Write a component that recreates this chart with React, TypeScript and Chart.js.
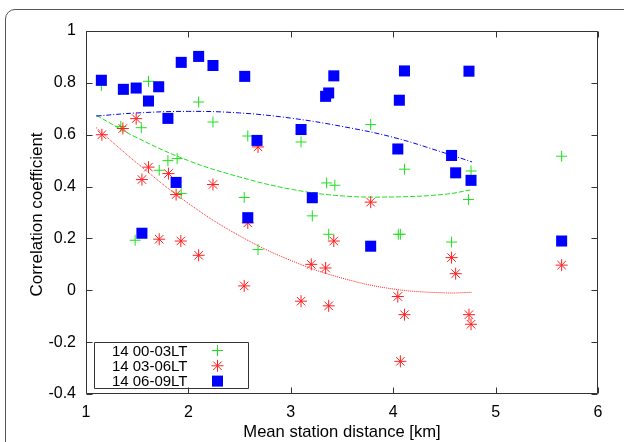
import React, { useEffect, useRef } from 'react';
import { Chart, registerables } from 'chart.js';

Chart.register(...registerables);

// 14 00-03LT (green crosses)
const greenX = [1.15, 1.34, 1.54, 1.61, 1.715, 1.80, 1.89, 1.93, 1.48, 2.10, 2.24, 2.58, 2.545, 2.68, 3.10, 3.21, 3.35, 3.43, 3.37, 3.78, 4.05, 4.07, 4.11, 4.57, 4.735, 4.76, 5.645];
const greenY = [0.79, 0.632, 0.627, 0.806, 0.463, 0.50, 0.508, 0.373, 0.193, 0.726, 0.649, 0.595, 0.358, 0.157, 0.572, 0.287, 0.414, 0.405, 0.216, 0.639, 0.216, 0.216, 0.467, 0.186, 0.35, 0.46, 0.517];

// 14 03-06LT (red stars)
const redX = [1.155, 1.36, 1.49, 1.61, 1.546, 1.805, 1.88, 2.24, 1.715, 1.926, 2.10, 2.545, 2.58, 2.68, 3.78, 3.42, 3.20, 3.34, 3.10, 3.37, 4.045, 4.57, 4.61, 5.645, 4.11, 4.74, 4.76, 4.07];
const redY = [0.60, 0.624, 0.662, 0.475, 0.427, 0.45, 0.369, 0.408, 0.197, 0.19, 0.135, 0.017, 0.26, 0.553, 0.34, 0.19, 0.10, 0.086, -0.042, -0.06, -0.024, 0.126, 0.064, 0.097, -0.094, -0.094, -0.131, -0.274];

// 14 06-09LT (blue squares)
const blueX = [1.15, 1.365, 1.49, 1.71, 1.61, 1.80, 1.93, 2.10, 2.24, 1.88, 1.546, 2.55, 2.67, 3.10, 3.21, 3.34, 3.37, 3.42, 2.58, 3.78, 4.06, 4.11, 4.045, 4.57, 4.61, 4.76, 4.74, 5.645];
const blueY = [0.81, 0.775, 0.78, 0.785, 0.73, 0.663, 0.879, 0.902, 0.867, 0.416, 0.22, 0.825, 0.578, 0.62, 0.357, 0.748, 0.761, 0.827, 0.28, 0.17, 0.733, 0.846, 0.545, 0.52, 0.453, 0.424, 0.845, 0.19];

// fit curves
const fitX = [1.1, 1.5, 2.0, 2.5, 3.0, 3.5, 4.0, 4.5, 4.77];
const greenFit = [0.675, 0.588, 0.50, 0.437, 0.39, 0.364, 0.36, 0.37, 0.388];
const redFit = [0.627, 0.49, 0.335, 0.21, 0.115, 0.047, 0.005, -0.01, -0.008];
const blueFit = [0.672, 0.684, 0.69, 0.684, 0.664, 0.632, 0.59, 0.53, 0.495];

const xTicks = [1, 2, 3, 4, 5, 6];
const yTicks = [-0.4, -0.2, 0, 0.2, 0.4, 0.6, 0.8, 1];
const legendLabels = ['14 00-03LT', '14 03-06LT', '14 06-09LT'];
const xTitle = 'Mean station distance [km]';
const yTitle = 'Correlation coefficient';

const GREEN = '#1ee01e';
const RED = '#ff1f1f';
const BLUE = '#0000ff';
const FONT = '"Liberation Sans", Arial, Helvetica, sans-serif';

const zip = (xs: number[], ys: number[]) => xs.map((x, i) => ({ x, y: ys[i] }));
const fmt = (v: number) => String(Number(Number(v).toFixed(1)));

function drawSymbol(ctx: CanvasRenderingContext2D, kind: string, x: number, y: number) {
  ctx.save();
  ctx.lineWidth = 1;
  if (kind === 'cross') {
    ctx.strokeStyle = GREEN;
    ctx.beginPath();
    ctx.moveTo(x - 5.5, y); ctx.lineTo(x + 5.5, y);
    ctx.moveTo(x, y - 5.5); ctx.lineTo(x, y + 5.5);
    ctx.stroke();
  } else if (kind === 'star') {
    ctx.strokeStyle = RED;
    ctx.beginPath();
    ctx.moveTo(x - 6, y); ctx.lineTo(x + 6, y);
    ctx.moveTo(x, y - 6); ctx.lineTo(x, y + 6);
    const d = 6 * Math.SQRT1_2;
    ctx.moveTo(x - d, y - d); ctx.lineTo(x + d, y + d);
    ctx.moveTo(x - d, y + d); ctx.lineTo(x + d, y - d);
    ctx.stroke();
  } else {
    ctx.fillStyle = BLUE;
    ctx.fillRect(x - 5.5, y - 5.5, 11, 11);
  }
  ctx.restore();
}

const framePlugin = {
  id: 'gnuframe',
  afterDatasetsDraw(chart: any) {
    const { ctx, chartArea: a, scales } = chart;
    const xs = scales.x;
    const ys = scales.y;
    ctx.save();
    ctx.strokeStyle = '#333';
    ctx.lineWidth = 1;
    const L = Math.round(a.left) + 0.5;
    const R = Math.round(a.right) - 0.5;
    const T = Math.round(a.top) + 0.5;
    const B = Math.round(a.bottom) - 0.5;
    ctx.beginPath();
    ctx.rect(L, T, R - L, B - T);
    ctx.stroke();
    ctx.beginPath();
    for (const v of xTicks) {
      const px = Math.round(xs.getPixelForValue(v)) + 0.5;
      ctx.moveTo(px, B); ctx.lineTo(px, B - 6);
      ctx.moveTo(px, T); ctx.lineTo(px, T + 6);
    }
    for (const v of yTicks) {
      const py = Math.round(ys.getPixelForValue(v)) + 0.5;
      ctx.moveTo(L, py); ctx.lineTo(L + 6, py);
      ctx.moveTo(R, py); ctx.lineTo(R - 6, py);
    }
    ctx.stroke();

    // y-axis title
    ctx.save();
    ctx.translate(a.left - 49, (a.top + a.bottom) / 2 + 2);
    ctx.rotate(-Math.PI / 2);
    ctx.font = '17px ' + FONT;
    ctx.fillStyle = '#000';
    ctx.textAlign = 'center';
    ctx.textBaseline = 'middle';
    ctx.fillText(yTitle, 0, 0);
    ctx.restore();

    // legend
    const bl = Math.round(a.left) + 8.5;
    const br = Math.round(a.left) + 162.5;
    const bb = Math.round(a.bottom) - 5.5;
    const bt = bb - 46;
    ctx.beginPath();
    ctx.rect(bl, bt, br - bl, bb - bt);
    ctx.stroke();
    ctx.font = '15px ' + FONT;
    ctx.fillStyle = '#000';
    ctx.textAlign = 'right';
    ctx.textBaseline = 'middle';
    const kinds = ['cross', 'star', 'rect'];
    legendLabels.forEach((t, i) => {
      const cy = bt + 8 + i * 15.3;
      ctx.fillText(t, bl + 93, cy + 1);
      drawSymbol(ctx, kinds[i], bl + 123, cy);
    });
    ctx.restore();
  },
};

export default function App() {
  const ref = useRef<HTMLCanvasElement | null>(null);
  useEffect(() => {
    document.body.style.margin = '0';
    if (!ref.current) return;
    const chart = new Chart(ref.current, {
      type: 'scatter',
      data: {
        datasets: [
          {
            label: legendLabels[2],
            data: zip(blueX, blueY),
            pointStyle: 'rect',
            pointRadius: 7.8,
            pointHoverRadius: 7.8,
            backgroundColor: BLUE,
            borderColor: BLUE,
            borderWidth: 0,
          },
          {
            label: legendLabels[1],
            data: zip(redX, redY),
            pointStyle: 'star',
            pointRadius: 6,
            pointHoverRadius: 6,
            borderColor: RED,
            backgroundColor: RED,
            borderWidth: 1,
          },
          {
            label: legendLabels[0],
            data: zip(greenX, greenY),
            pointStyle: 'cross',
            pointRadius: 5.5,
            pointHoverRadius: 5.5,
            borderColor: GREEN,
            backgroundColor: GREEN,
            borderWidth: 1,
          },
          {
            label: 'fit06',
            data: zip(fitX, blueFit),
            showLine: true,
            pointRadius: 0,
            borderColor: BLUE,
            borderWidth: 1,
            borderDash: [5, 2, 1, 2],
            tension: 0.4,
          },
          {
            label: 'fit03',
            data: zip(fitX, redFit),
            showLine: true,
            pointRadius: 0,
            borderColor: RED,
            borderWidth: 1,
            borderDash: [1, 1],
            tension: 0.4,
          },
          {
            label: 'fit00',
            data: zip(fitX, greenFit),
            showLine: true,
            pointRadius: 0,
            borderColor: GREEN,
            borderWidth: 1,
            borderDash: [5, 2],
            tension: 0.4,
          },
        ] as any,
      },
      options: {
        animation: false,
        responsive: false,
        layout: { padding: { top: 31, right: 26, left: 0, bottom: 0 } },
        plugins: { legend: { display: false }, tooltip: { enabled: false } },
        scales: {
          x: {
            type: 'linear',
            min: 1,
            max: 6,
            grid: { display: false },
            border: { display: false },
            afterBuildTicks: (s: any) => { s.ticks = xTicks.map((v) => ({ value: v })); },
            afterFit: (s: any) => { s.height = 48; },
            ticks: { color: '#000', padding: 1, font: { family: FONT, size: 16 }, callback: (v: any) => fmt(v) },
            title: {
              display: true,
              text: xTitle,
              color: '#000',
              padding: { top: 0, bottom: 0 },
              font: { family: FONT, size: 16.6 },
            },
          },
          y: {
            type: 'linear',
            min: -0.4,
            max: 1,
            grid: { display: false },
            border: { display: false },
            afterBuildTicks: (s: any) => { s.ticks = yTicks.map((v) => ({ value: v })); },
            afterFit: (s: any) => { s.width = 86; },
            ticks: { color: '#000', padding: 2, font: { family: FONT, size: 16 }, callback: (v: any) => fmt(v) },
            title: { display: false },
          },
        },
      },
      plugins: [framePlugin],
    });
    return () => chart.destroy();
  }, []);

  return (
    <div style={{ position: 'relative', width: 624, height: 442, overflow: 'hidden', background: '#fff' }}>
      <div
        style={{
          position: 'absolute',
          left: 5,
          top: 9,
          width: 660,
          height: 480,
          border: '1px solid #555',
          borderRadius: 10,
          boxSizing: 'border-box',
        }}
      />
      <canvas ref={ref} width={624} height={442} style={{ position: 'absolute', left: 0, top: 0, display: 'block' }} />
    </div>
  );
}
